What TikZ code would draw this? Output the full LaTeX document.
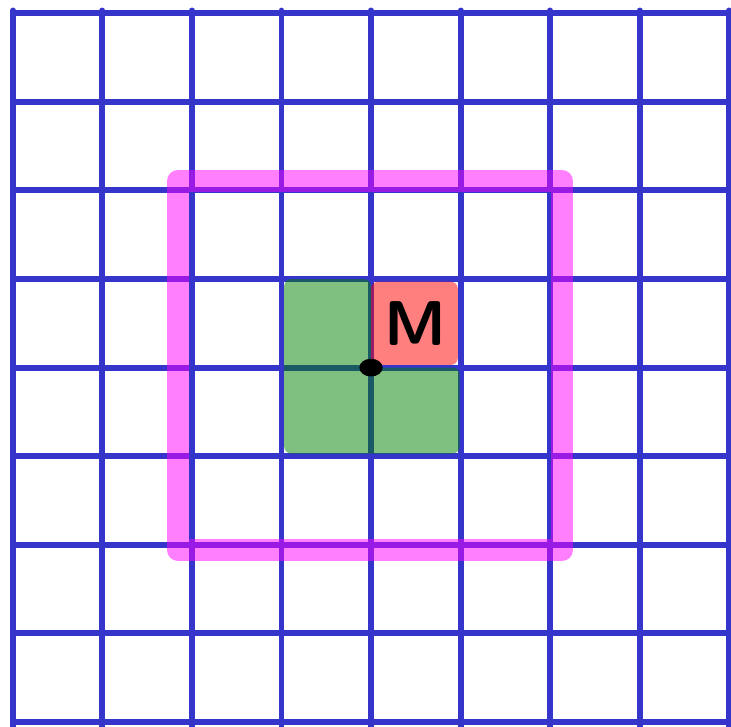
\documentclass[tikz,border=0pt]{standalone}
\usepackage{xcolor}
\usepackage{tikz}
\definecolor{gridblue}{HTML}{3535CC}
\definecolor{hlpink}{HTML}{FF00FF}
\definecolor{nbgreen}{HTML}{008000}
\definecolor{mred}{HTML}{FF0000}

\begin{document}
\begin{tikzpicture}[x=0.895cm, y=0.886cm,
  gl/.style={draw=gridblue, line width=1.7pt, line cap=round},
  win/.style={draw=hlpink, draw opacity=0.5, line width=6.2pt, line cap=round, line join=round},
  nb/.style={fill=nbgreen, fill opacity=0.5, rounded corners=2pt},
  cur/.style={fill=mred, fill opacity=0.5, rounded corners=2pt}]
\useasboundingbox (-0.145,-0.045) rectangle (8.022,8.149);
% grid
\foreach \i in {0,...,8} {
  \draw[gl] (\i,-0.1) -- (\i,8.03);
  \draw[gl] (0,\i) -- (8.05,\i);
}
% neighbours and cell
\fill[nb] (3.03,3.03) -- (4.99,3.03) -- (4.99,4.0) -- (4.0,4.0) -- (4.0,5.0) -- (3.03,5.0) -- cycle;
\fill[cur] (4.0,4.03) rectangle (4.97,4.97);
\node[font=\fontsize{18}{18}\selectfont\sffamily\bfseries] (m) at (4.5,4.5) {M};
\fill[black] (4,4) ellipse (0.13 and 0.1);
% window
\draw[win] (1.844,1.941) rectangle (6.134,6.106);
\end{tikzpicture}
\end{document}
